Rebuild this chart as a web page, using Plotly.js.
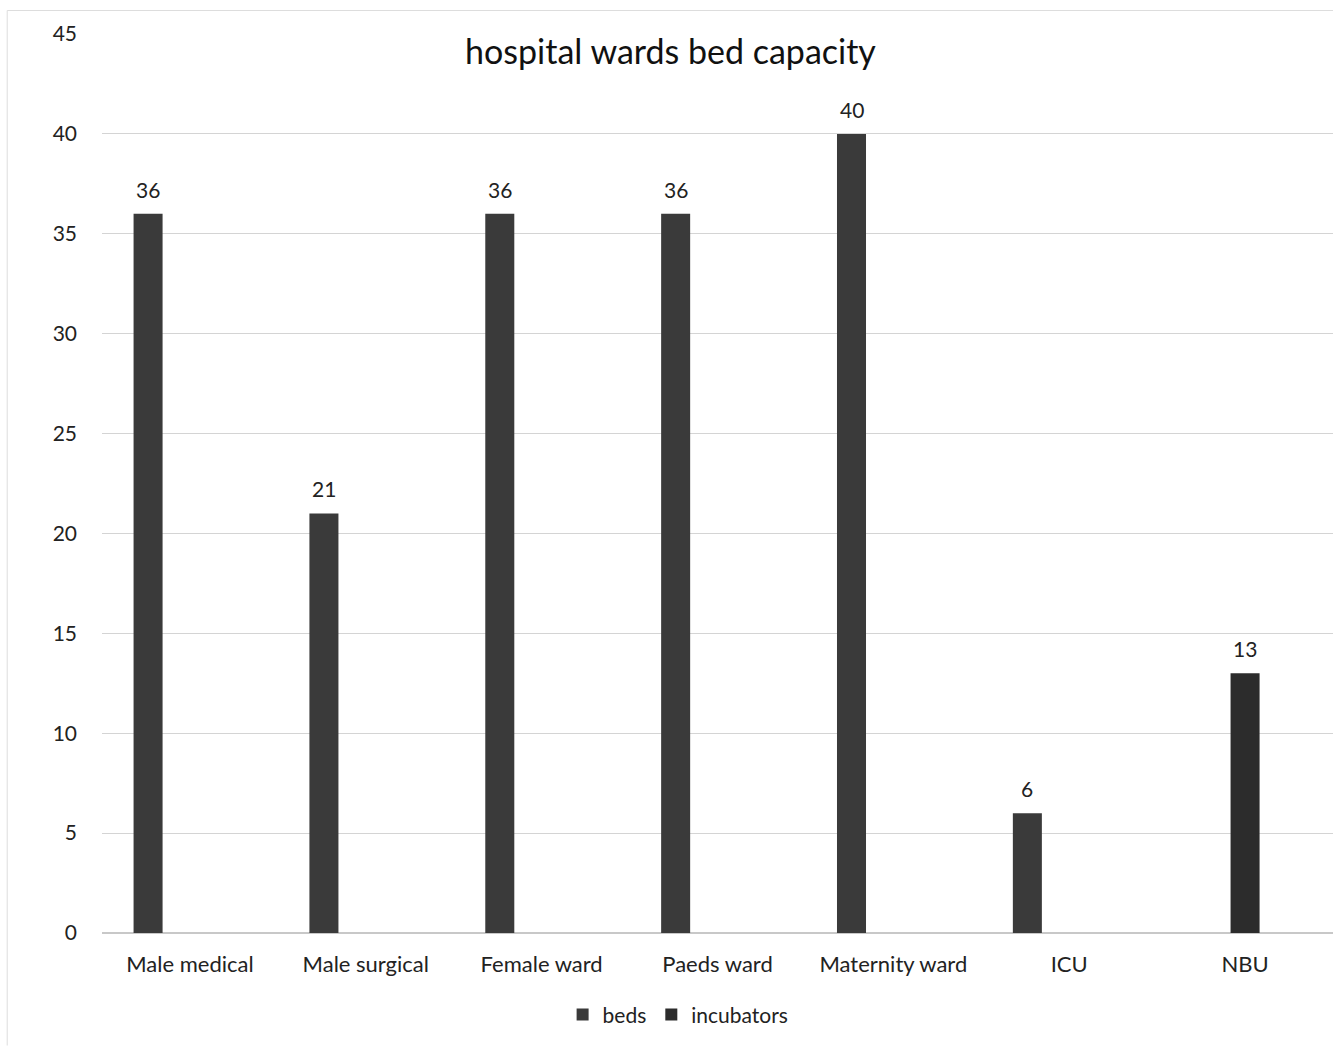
<!DOCTYPE html>
<html>
<head>
<meta charset="utf-8">
<script src="https://cdn.plot.ly/plotly-3.0.1.min.js"></script>
<style>html,body{margin:0;padding:0;background:#fff;overflow:hidden;}#chart{width:1333px;height:1047px;}</style>
</head>
<body>
<div id="chart"></div>
<script>
const wards = ["Male medical", "Male surgical", "Female ward", "Paeds ward", "Maternity ward", "ICU", "NBU"];
const beds = [36, 21, 36, 36, 40, 6, null];
const incubators = [null, null, null, null, null, null, 13];
const yTicks = [0, 5, 10, 15, 20, 25, 30, 35, 40, 45];

const font = "Lato, 'Open Sans', 'Liberation Sans', sans-serif";
const barW = 0.165;
const bedsCenter = -0.238;   // beds bar centre, relative to category centre
const incCenter = 0;         // incubators bar centre
const catPx = 1231 / wards.length;

const traces = [
  {
    type: "bar", name: "beds", x: wards, y: beds,
    marker: {color: "#3a3a3a"},
    width: barW, offset: bedsCenter - barW / 2
  },
  {
    type: "bar", name: "incubators", x: wards, y: incubators,
    marker: {color: "#2c2c2c"},
    width: barW, offset: incCenter - barW / 2
  }
];

const annotations = [];
function addLabels(vals, centre) {
  vals.forEach((v, i) => {
    if (v == null) return;
    annotations.push({
      x: wards[i], y: v, xref: "x", yref: "y",
      text: String(v), showarrow: false,
      xanchor: "center", yanchor: "bottom",
      xshift: centre * catPx, yshift: 10,
      font: {family: font, size: 21, color: "#222"}
    });
  });
}
addLabels(beds, bedsCenter);
addLabels(incubators, incCenter);

const layout = {
  width: 1333, height: 1047,
  paper_bgcolor: "#fff", plot_bgcolor: "#fff",
  margin: {l: 102, r: 0, t: 33, b: 114},
  barmode: "group",
  font: {family: font, color: "#222"},
  title: {text: "hospital wards bed capacity", font: {family: font, size: 34, color: "#111"}, x: 0.503, xanchor: "center", y: 0.95, yanchor: "middle"},
  xaxis: {
    type: "category", showgrid: false, zeroline: false, showline: false,
    ticks: "", ticklabelstandoff: 16,
    tickfont: {family: font, size: 22, color: "#222"}
  },
  yaxis: {
    range: [0, 45.05], tickvals: yTicks, ticktext: yTicks.map(String),
    showgrid: true, gridcolor: "#d4d4d4", gridwidth: 1.2,
    zeroline: true, zerolinecolor: "#c8c8c8", zerolinewidth: 1.5,
    showline: false, ticks: "", ticklabelstandoff: 24,
    tickfont: {family: font, size: 21, color: "#222"}
  },
  showlegend: true,
  legend: {
    orientation: "h", x: 0.468, xanchor: "center", y: -0.091, yanchor: "middle",
    font: {family: font, size: 21, color: "#222"}, traceorder: "normal",
    itemwidth: 30, entrywidth: 0
  },
  annotations: annotations,
  shapes: [
    {type: "line", xref: "paper", yref: "paper", x0: -0.077, x1: -0.077, y0: -0.125, y1: 1.025, line: {color: "#dddddd", width: 1}},
    {type: "line", xref: "paper", yref: "paper", x0: -0.077, x1: 1, y0: 1.025, y1: 1.025, line: {color: "#dddddd", width: 1}}
  ]
};

Plotly.newPlot("chart", traces, layout, {displayModeBar: false, staticPlot: true});
</script>
</body>
</html>
